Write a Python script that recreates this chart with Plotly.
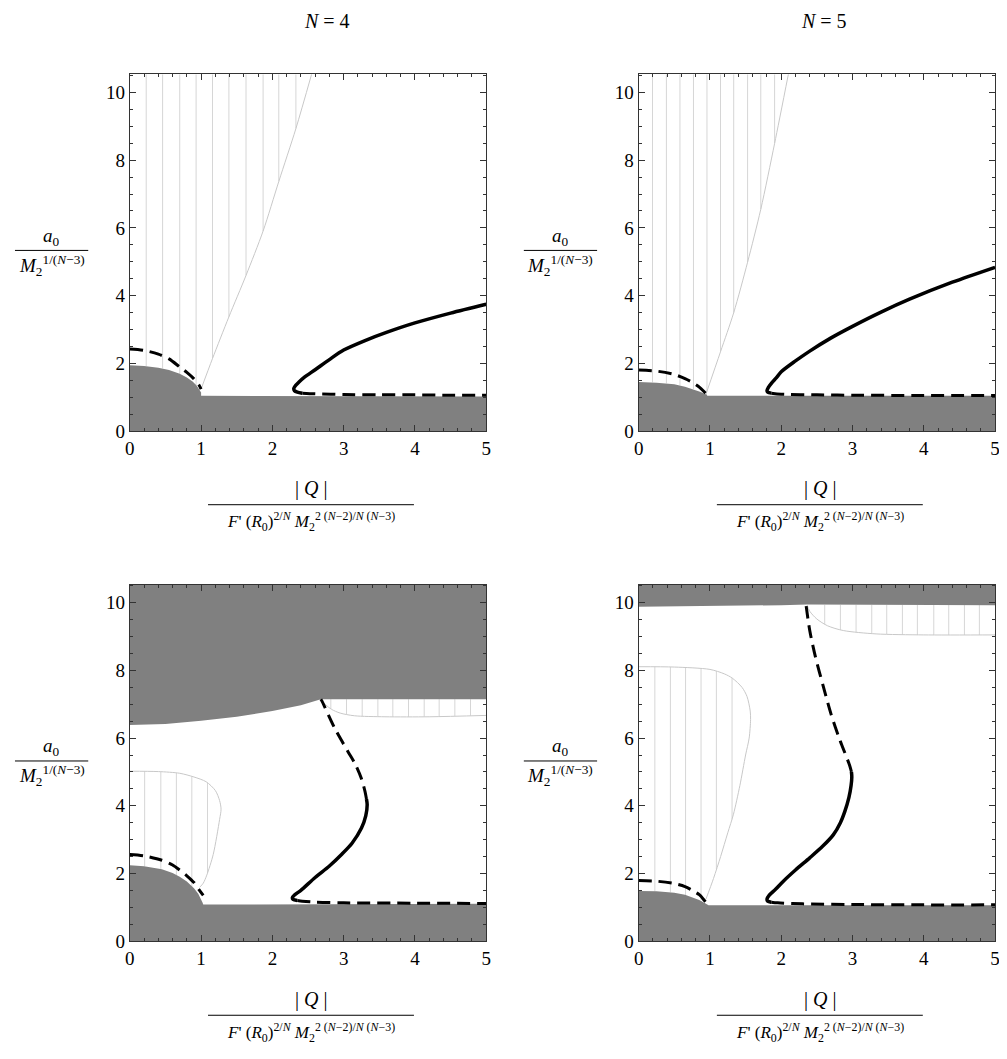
import plotly.graph_objects as go

W, H = 1007, 1059          # target window size
OFF = 8                    # default page body margin in the browser
FW, FH = W - OFF, H - 2 * OFF
X_RANGE = [0, 5]
Y_RANGE = [0, 10.53]
X_TICKS = [0, 1, 2, 3, 4, 5]
Y_TICKS = [0, 2, 4, 6, 8, 10]
TITLES = ["<i>N</i> = 4", "<i>N</i> = 5"]

# ---------------- Panel 1 : N=4, top row ----------------
p1_gray_x = [0, 0.2, 0.4, 0.55, 0.7, 0.8, 0.88, 0.94, 0.98, 1.0, 1.0, 2, 3, 4, 5]
p1_gray_y = [1.95, 1.93, 1.88, 1.81, 1.70, 1.59, 1.47, 1.35, 1.24, 1.15, 1.05, 1.05, 1.04, 1.04, 1.03]
p1_dash_x = [0, 0.2, 0.4, 0.55, 0.7, 0.8, 0.9, 0.97, 1.0]
p1_dash_y = [2.43, 2.39, 2.28, 2.14, 1.90, 1.74, 1.55, 1.37, 1.25]
p1_bound_x = [1.0, 1.16, 1.39, 1.63, 1.87, 2.09, 2.33, 2.55]
p1_bound_y = [1.25, 2.15, 3.38, 4.6, 5.91, 7.37, 8.93, 10.53]
p1_hatch_x = [0.23, 0.46, 0.70, 0.93, 1.16, 1.39, 1.63, 1.87, 2.09, 2.33]
p1_hatch_lo = [1.93, 1.86, 1.69, 1.37, 2.15, 3.38, 4.6, 5.91, 7.37, 8.93]
p1_hatch_hi = [10.53] * 10
p1_solid_x = [2.42, 2.35, 2.31, 2.30, 2.32, 2.37, 2.45, 2.6, 2.8, 3.0, 3.3, 3.6, 4.0, 4.5, 5.0]
p1_solid_y = [1.13, 1.16, 1.20, 1.26, 1.34, 1.45, 1.60, 1.82, 2.12, 2.40, 2.68, 2.92, 3.20, 3.49, 3.75]
p1_low_x = [2.42, 2.6, 3.0, 3.5, 4.0, 4.5, 5.0]
p1_low_y = [1.13, 1.11, 1.09, 1.08, 1.08, 1.07, 1.07]

# ---------------- Panel 2 : N=5, top row ----------------
p2_gray_x = [0, 0.25, 0.5, 0.65, 0.75, 0.85, 0.92, 0.96, 0.96, 2, 3, 4, 5]
p2_gray_y = [1.46, 1.44, 1.39, 1.32, 1.26, 1.18, 1.12, 1.08, 1.05, 1.05, 1.05, 1.05, 1.05]
p2_dash_x = [0, 0.25, 0.5, 0.65, 0.75, 0.85, 0.93, 0.96]
p2_dash_y = [1.81, 1.78, 1.68, 1.56, 1.45, 1.31, 1.15, 1.09]
p2_bound_x = [0.944, 1.148, 1.333, 1.528, 1.713, 1.907, 2.10]
p2_bound_y = [1.10, 2.35, 3.5, 4.99, 6.55, 8.49, 10.53]
p2_hatch_x = [0.194, 0.389, 0.579, 0.769, 0.958, 1.148, 1.333, 1.528, 1.713, 1.907]
p2_hatch_lo = [1.45, 1.42, 1.36, 1.25, 1.18, 2.35, 3.5, 4.99, 6.55, 8.49]
p2_hatch_hi = [10.53] * 10
p2_solid_x = [1.86, 1.81, 1.80, 1.82, 1.87, 1.93, 2.0, 2.2, 2.4, 2.7, 3.0, 3.4, 3.8, 4.4, 5.0]
p2_solid_y = [1.13, 1.16, 1.20, 1.30, 1.44, 1.58, 1.76, 2.08, 2.37, 2.76, 3.10, 3.52, 3.90, 4.40, 4.84]
p2_low_x = [1.86, 2.0, 2.5, 3.0, 4.0, 5.0]
p2_low_y = [1.13, 1.10, 1.08, 1.07, 1.06, 1.06]

# ---------------- Panel 3 : N=4, bottom row ----------------
p3_top_x = [0, 0.5, 1.0, 1.5, 2.0, 2.4, 2.68, 5.0]
p3_top_y = [6.39, 6.42, 6.51, 6.63, 6.80, 6.97, 7.15, 7.15]
p3_gray_x = [0, 0.2, 0.45, 0.6, 0.7, 0.8, 0.9, 0.96, 1.0, 1.02, 1.03, 2, 3, 4, 5]
p3_gray_y = [2.24, 2.21, 2.12, 2.01, 1.90, 1.76, 1.56, 1.40, 1.25, 1.14, 1.08, 1.08, 1.09, 1.09, 1.10]
p3_dash_x = [0, 0.2, 0.45, 0.6, 0.7, 0.8, 0.9, 0.97, 1.03]
p3_dash_y = [2.56, 2.52, 2.39, 2.25, 2.10, 1.93, 1.73, 1.52, 1.35]
p3_bound_x = [0, 0.4, 0.7, 0.9, 1.07, 1.2, 1.26, 1.28, 1.26, 1.17, 1.08, 1.03, 0.98]
p3_bound_y = [5.02, 5.01, 4.96, 4.85, 4.71, 4.45, 4.15, 3.9, 3.6, 2.56, 1.95, 1.71, 1.59]
p3_hatch_x = [0.208, 0.435, 0.653, 0.87, 1.09]
p3_hatch_lo = [2.21, 2.13, 1.94, 1.60, 2.0]
p3_hatch_hi = [5.02, 5.01, 4.97, 4.87, 4.68]
p3_bound2_x = [2.68, 2.75, 2.83, 2.95, 3.15, 3.58, 4.2, 5.0]
p3_bound2_y = [7.15, 6.98, 6.85, 6.74, 6.66, 6.63, 6.63, 6.67]
p3_hatch2_x = [2.82, 3.04, 3.26, 3.48, 3.69, 3.91, 4.13, 4.34, 4.56, 4.78]
p3_hatch2_lo = [6.86, 6.70, 6.65, 6.63, 6.63, 6.63, 6.63, 6.64, 6.65, 6.66]
p3_hatch2_hi = [7.15] * 10
p3_solid_x = [2.35, 2.29, 2.28, 2.31, 2.40, 2.60, 2.80, 2.97, 3.12, 3.25, 3.31, 3.33, 3.32]
p3_solid_y = [1.20, 1.23, 1.28, 1.36, 1.50, 1.88, 2.22, 2.56, 2.90, 3.34, 3.70, 4.03, 4.20]
p3_upper_x = [3.32, 3.30, 3.25, 3.17, 3.065, 2.88, 2.694, 2.68]
p3_upper_y = [4.20, 4.42, 4.80, 5.20, 5.585, 6.27, 7.10, 7.15]
p3_low_x = [2.35, 2.42, 2.6, 3.0, 4.0, 5.0]
p3_low_y = [1.20, 1.18, 1.15, 1.13, 1.12, 1.11]

# ---------------- Panel 4 : N=5, bottom row ----------------
p4_top_x = [0, 1.0, 2.0, 2.36, 5.0]
p4_top_y = [9.88, 9.90, 9.93, 9.95, 9.93]
p4_gray_x = [0, 0.25, 0.5, 0.65, 0.75, 0.85, 0.92, 0.97, 0.98, 2, 3, 4, 5]
p4_gray_y = [1.48, 1.47, 1.43, 1.37, 1.30, 1.21, 1.13, 1.08, 1.06, 1.06, 1.06, 1.06, 1.06]
p4_dash_x = [0, 0.25, 0.5, 0.65, 0.75, 0.85, 0.93, 0.96]
p4_dash_y = [1.79, 1.77, 1.70, 1.61, 1.50, 1.37, 1.18, 1.10]
p4_bound_x = [0, 0.5, 1.0, 1.2, 1.315, 1.45, 1.52, 1.565, 1.57, 1.55, 1.5, 1.42, 1.33, 1.25, 1.15, 1.05, 0.944]
p4_bound_y = [8.11, 8.10, 8.03, 7.9, 7.77, 7.5, 7.23, 6.8, 6.55, 6.0, 5.5, 4.6, 3.75, 3.2, 2.5, 1.85, 1.24]
p4_hatch_x = [0.227, 0.445, 0.658, 0.875, 1.09, 1.31]
p4_hatch_lo = [1.47, 1.44, 1.36, 1.22, 2.12, 3.6]
p4_hatch_hi = [8.11, 8.10, 8.08, 8.05, 7.98, 7.78]
p4_bound2_x = [2.36, 2.40, 2.50, 2.65, 2.87, 3.33, 4.0, 5.0]
p4_bound2_y = [9.95, 9.75, 9.52, 9.32, 9.18, 9.08, 9.05, 9.05]
p4_hatch2_x = [2.61, 2.83, 3.05, 3.27, 3.48, 3.70, 3.91, 4.14, 4.35, 4.57, 4.78]
p4_hatch2_lo = [9.36, 9.20, 9.13, 9.09, 9.07, 9.06, 9.05, 9.05, 9.05, 9.05, 9.05]
p4_hatch2_hi = [9.94] * 11
p4_solid_x = [1.86, 1.81, 1.80, 1.83, 1.92, 2.03, 2.2, 2.40, 2.58, 2.73, 2.83, 2.89, 2.95, 2.98, 2.99, 2.985]
p4_solid_y = [1.15, 1.18, 1.24, 1.35, 1.53, 1.77, 2.1, 2.46, 2.8, 3.14, 3.5, 3.82, 4.25, 4.6, 4.85, 5.0]
p4_upper_x = [2.985, 2.96, 2.82, 2.70, 2.59, 2.48, 2.40, 2.35]
p4_upper_y = [5.0, 5.19, 5.96, 6.7, 7.53, 8.4, 9.18, 9.9]
p4_low_x = [1.86, 1.95, 2.3, 3.0, 4.0, 5.0]
p4_low_y = [1.15, 1.13, 1.10, 1.08, 1.07, 1.07]

# ---------------- styling ----------------
GRAY = "#808080"
HATCH = "#d6d6d6"
BOUND = "#c8c8c8"
FRAME = "#333333"
FONT = "Liberation Serif, Times New Roman, Times, serif"
DASH = "13px,7px"

# panel pixel boxes in the window (left, top, right, bottom)
BOXES = [(126, 75, 486, 436), (640, 75, 1000, 436), (126, 591, 486, 951), (640, 591, 1000, 951)]

fig = go.Figure()


def ax_names(i):
    return ("x" if i == 0 else f"x{i+1}"), ("y" if i == 0 else f"y{i+1}")


def add_line(i, x, y, color, width, dash=None, shape="spline"):
    xa, ya = ax_names(i)
    fig.add_trace(go.Scatter(x=x, y=y, mode="lines", xaxis=xa, yaxis=ya,
                             line=dict(color=color, width=width, dash=dash, shape=shape, smoothing=0.8),
                             hoverinfo="skip", showlegend=False))


def add_fill(i, x, y):
    xa, ya = ax_names(i)
    fig.add_trace(go.Scatter(x=x, y=y, mode="lines", xaxis=xa, yaxis=ya, fill="toself",
                             fillcolor=GRAY, line=dict(width=0, color=GRAY),
                             hoverinfo="skip", showlegend=False))


def add_hatch(i, hx, lo, hi):
    xs, ys = [], []
    for xv, a, b in zip(hx, lo, hi):
        xs += [xv, xv, None]
        ys += [a, b, None]
    add_line(i, xs, ys, HATCH, 1, shape="linear")


# Panel 1
add_hatch(0, p1_hatch_x, p1_hatch_lo, p1_hatch_hi)
add_fill(0, [0] + p1_gray_x + [5], [0] + p1_gray_y + [0])
add_line(0, p1_bound_x, p1_bound_y, BOUND, 1)
add_line(0, p1_dash_x, p1_dash_y, "black", 3, DASH)
add_line(0, p1_low_x, p1_low_y, "black", 3, DASH)
add_line(0, p1_solid_x, p1_solid_y, "black", 3.5)

# Panel 2
add_hatch(1, p2_hatch_x, p2_hatch_lo, p2_hatch_hi)
add_fill(1, [0] + p2_gray_x + [5], [0] + p2_gray_y + [0])
add_line(1, p2_bound_x, p2_bound_y, BOUND, 1)
add_line(1, p2_dash_x, p2_dash_y, "black", 3, DASH)
add_line(1, p2_low_x, p2_low_y, "black", 3, DASH)
add_line(1, p2_solid_x, p2_solid_y, "black", 3.5)

# Panel 3
add_hatch(2, p3_hatch_x, p3_hatch_lo, p3_hatch_hi)
add_hatch(2, p3_hatch2_x, p3_hatch2_lo, p3_hatch2_hi)
add_fill(2, [0] + p3_gray_x + [5], [0] + p3_gray_y + [0])
add_fill(2, p3_top_x + [5, 0], p3_top_y + [11, 11])
add_line(2, p3_bound_x, p3_bound_y, BOUND, 1)
add_line(2, p3_bound2_x, p3_bound2_y, BOUND, 1)
add_line(2, p3_dash_x, p3_dash_y, "black", 3, DASH)
add_line(2, p3_low_x, p3_low_y, "black", 3, DASH)
add_line(2, p3_upper_x, p3_upper_y, "black", 3, DASH)
add_line(2, p3_solid_x, p3_solid_y, "black", 3.5)

# Panel 4
add_hatch(3, p4_hatch_x, p4_hatch_lo, p4_hatch_hi)
add_hatch(3, p4_hatch2_x, p4_hatch2_lo, p4_hatch2_hi)
add_fill(3, [0] + p4_gray_x + [5], [0] + p4_gray_y + [0])
add_fill(3, p4_top_x + [5, 0], p4_top_y + [11, 11])
add_line(3, p4_bound_x, p4_bound_y, BOUND, 1)
add_line(3, p4_bound2_x, p4_bound2_y, BOUND, 1)
add_line(3, p4_dash_x, p4_dash_y, "black", 3, DASH)
add_line(3, p4_low_x, p4_low_y, "black", 3, DASH)
add_line(3, p4_upper_x, p4_upper_y, "black", 3, DASH)
add_line(3, p4_solid_x, p4_solid_y, "black", 3.5)


def px(xp):
    return (xp - OFF) / FW


def py(yp):
    return 1 - (yp - OFF) / FH


layout = dict(width=FW, height=FH, margin=dict(l=0, r=0, t=0, b=0),
              paper_bgcolor="white", plot_bgcolor="white", showlegend=False,
              font=dict(family=FONT, size=19, color="black"))

for i, (l, t, r, b) in enumerate(BOXES):
    xk = "xaxis" if i == 0 else f"xaxis{i+1}"
    yk = "yaxis" if i == 0 else f"yaxis{i+1}"
    ya_name = "y" if i == 0 else f"y{i+1}"
    xa_name = "x" if i == 0 else f"x{i+1}"
    layout[xk] = dict(domain=[px(l), px(r)], range=X_RANGE, anchor=ya_name,
                      tickvals=X_TICKS, ticks="inside", ticklen=6, tickwidth=1, tickcolor=FRAME,
                      showline=True, linecolor=FRAME, linewidth=1, mirror="allticks",
                      showgrid=False, zeroline=False,
                      minor=dict(dtick=0.2, ticks="inside", ticklen=3, tickcolor=FRAME, showgrid=False),
                      tickfont=dict(family=FONT, size=19, color="black"))
    layout[yk] = dict(domain=[py(b), py(t)], range=Y_RANGE, anchor=xa_name,
                      tickvals=Y_TICKS, ticks="inside", ticklen=6, tickwidth=1, tickcolor=FRAME,
                      showline=True, linecolor=FRAME, linewidth=1, mirror="allticks",
                      showgrid=False, zeroline=False,
                      minor=dict(dtick=0.5, ticks="inside", ticklen=3, tickcolor=FRAME, showgrid=False),
                      tickfont=dict(family=FONT, size=19, color="black"))

fig.update_layout(**layout)

annots = []
shapes = []
# titles (kept fully inside the figure's top edge)
for cx, txt in [(325, TITLES[0]), (827, TITLES[1])]:
    annots.append(dict(x=px(cx), y=1.0, xref="paper", yref="paper", text=txt, showarrow=False,
                       font=dict(family=FONT, size=20), xanchor="center", yanchor="top"))

YNUM = "<i>a</i><sub>0</sub>"
YDEN = "<i>M</i><sub>2</sub><sup>1/(<i>N</i>−3)</sup>"
XNUM = "| <i>Q</i> |"
XDEN = "<i>F</i>' (<i>R</i><sub>0</sub>)<sup>2/<i>N</i></sup> <i>M</i><sub>2</sub><sup>2 (<i>N</i>−2)/<i>N</i> (<i>N</i>−3)</sup>"

for dx in (0, 514):
    for dy in (0, 516):
        # y label
        cx = 47 + dx
        ly = 253 + dy
        annots.append(dict(x=px(cx), y=py(ly - 14), xref="paper", yref="paper", text=YNUM, showarrow=False,
                           font=dict(family=FONT, size=19), xanchor="center", yanchor="middle"))
        annots.append(dict(x=px(cx), y=py(ly + 15), xref="paper", yref="paper", text=YDEN, showarrow=False,
                           font=dict(family=FONT, size=19), xanchor="center", yanchor="middle"))
        shapes.append(dict(type="line", xref="paper", yref="paper", x0=px(10 + dx), x1=px(84 + dx),
                           y0=py(ly), y1=py(ly), line=dict(color="black", width=1)))
        # x label
        cx2 = 309 + dx
        lx = 510 + dy
        annots.append(dict(x=px(cx2), y=py(lx - 16), xref="paper", yref="paper", text=XNUM, showarrow=False,
                           font=dict(family=FONT, size=20), xanchor="center", yanchor="middle"))
        annots.append(dict(x=px(cx2), y=py(lx + 17), xref="paper", yref="paper", text=XDEN, showarrow=False,
                           font=dict(family=FONT, size=17), xanchor="center", yanchor="middle"))
        shapes.append(dict(type="line", xref="paper", yref="paper", x0=px(205 + dx), x1=px(413 + dx),
                           y0=py(lx), y1=py(lx), line=dict(color="black", width=1)))

fig.update_layout(annotations=annots, shapes=shapes)
fig.write_html("out.html")
